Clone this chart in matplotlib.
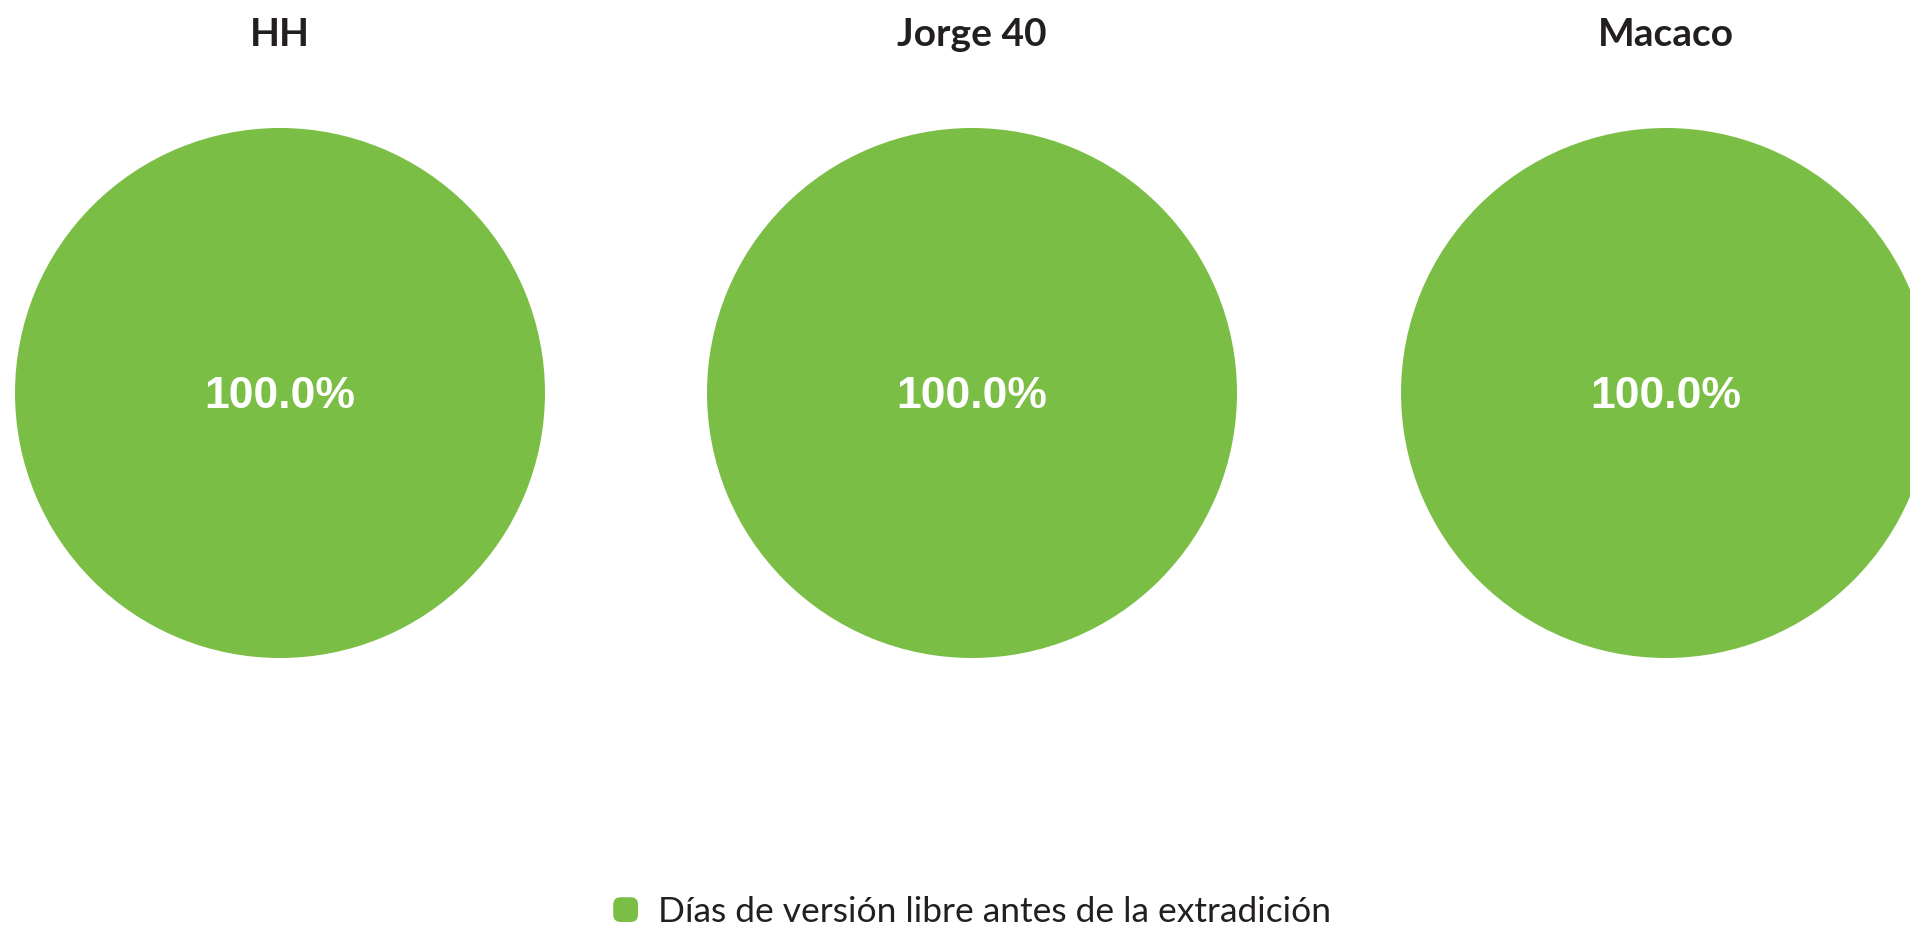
import matplotlib.pyplot as plt
from matplotlib.patches import FancyBboxPatch
from matplotlib.legend_handler import HandlerPatch

# ---------- data ----------
names = ["HH", "Jorge 40", "Macaco"]
series_label = "Días de versión libre antes de la extradición"
values = [[100.0], [100.0], [100.0]]

GREEN = "#7bbe45"
W, H = 1910, 931


class RoundedHandler(HandlerPatch):
    def create_artists(self, legend, orig_handle, xdescent, ydescent,
                       width, height, fontsize, trans):
        s = min(width, height) * 1.0
        x0 = -xdescent + (width - s) / 2
        y0 = -ydescent + (height - s) / 2
        p = FancyBboxPatch((x0 + s * 0.3, y0 + s * 0.3), s * 0.4, s * 0.4,
                           boxstyle=f"round,pad={s * 0.3}",
                           facecolor=GREEN, edgecolor="none", transform=trans)
        return [p]


fig = plt.figure(figsize=(W / 100, H / 100), dpi=100)

r_px = 265
cy_px = 393
centers_px = [280, 972, 1666]

wedge = None
for name, vals, cx in zip(names, values, centers_px):
    ax = fig.add_axes([(cx - r_px) / W, 1 - (cy_px + r_px) / H,
                       2 * r_px / W, 2 * r_px / H])
    wedges, texts, autotexts = ax.pie(
        vals, colors=[GREEN], autopct="%1.1f%%", pctdistance=0,
        startangle=90, wedgeprops=dict(linewidth=0),
        textprops=dict(color="white", fontsize=32, fontweight="bold",
                       family="Liberation Sans"),
    )
    for t in autotexts:
        t.set_y(-0.015)
    wedge = wedges[0]
    ax.set_xlim(-1, 1)
    ax.set_ylim(-1, 1)
    ax.set_aspect("equal")
    ax.axis("off")
    fig.text(cx / W, 1 - 34 / H, name, ha="center", va="center",
             fontsize=28, fontweight="bold", color="#231f20", family="Lato")

leg = fig.legend([wedge], [series_label], loc="center",
                 bbox_to_anchor=(971 / W, 1 - 912 / H), frameon=False,
                 handler_map={type(wedge): RoundedHandler()},
                 prop=dict(family="Lato", size=25.5), handlelength=0.8,
                 handletextpad=0.5)
for t in leg.get_texts():
    t.set_color("#231f20")

fig.savefig("out.png", dpi=100)
